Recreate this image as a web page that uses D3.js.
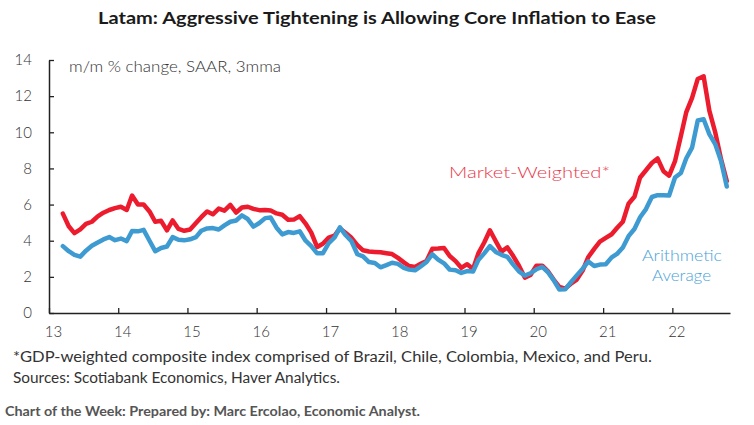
<!DOCTYPE html>
<html>
<head>
<meta charset="utf-8">
<script src="https://cdn.jsdelivr.net/npm/d3@7"></script>
<style>
  html, body { margin: 0; padding: 0; background: #fff; }
  svg { display: block; }
  text { font-family: Lato, "Open Sans", sans-serif; }
</style>
</head>
<body>
<svg id="chart" width="754" height="425"></svg>
<script>
// ---- Data (monthly, Mar 2013 – Oct 2022) ----
const startYear = 2013, startMonth = 2; // March 2013
const marketWeighted = [
  5.5, 4.8, 4.42, 4.63, 4.93, 5.05, 5.35, 5.55, 5.7, 5.8,           // 2013 Mar-Dec
  5.88, 5.7, 6.5, 6.0, 6.0, 5.62, 5.05, 5.1, 4.57, 5.12, 4.65, 4.55, // 2014
  4.62, 4.98, 5.3, 5.62, 5.46, 5.78, 5.66, 5.98, 5.56, 5.84, 5.88, 5.76, // 2015
  5.69, 5.7, 5.67, 5.51, 5.44, 5.16, 5.17, 5.36, 4.95, 4.45, 3.65, 3.83, // 2016
  4.17, 4.28, 4.68, 4.42, 4.16, 3.76, 3.47, 3.4, 3.38, 3.36, 3.31, 3.26, // 2017
  3.05, 2.8, 2.6, 2.55, 2.72, 2.88, 3.55, 3.57, 3.6, 3.15, 2.87, 2.5,   // 2018
  2.7, 2.43, 3.3, 3.9, 4.58, 3.97, 3.4, 3.63, 3.15, 2.62, 1.96, 2.1,    // 2019
  2.62, 2.62, 2.32, 1.85, 1.45, 1.35, 1.62, 1.85, 2.35, 3.1, 3.55, 3.95, // 2020
  4.16, 4.36, 4.7, 5.05, 6.05, 6.43, 7.5, 7.9, 8.3, 8.55, 7.85, 7.6,    // 2021
  8.4, 9.8, 11.1, 11.9, 12.95, 13.1, 11.2, 10.0, 8.5, 7.3              // 2022 Jan-Oct
];
const arithmeticAverage = [
  3.7, 3.42, 3.22, 3.12, 3.45, 3.72, 3.9, 4.07, 4.2, 4.03,
  4.12, 3.98, 4.54, 4.52, 4.6, 4.0, 3.42, 3.6, 3.68, 4.2, 4.05, 4.02,
  4.08, 4.2, 4.55, 4.68, 4.7, 4.62, 4.85, 5.05, 5.12, 5.4, 5.2, 4.78,
  4.98, 5.25, 5.28, 4.72, 4.35, 4.48, 4.43, 4.52, 4.0, 3.7, 3.3, 3.3,
  3.86, 4.18, 4.74, 4.3, 3.97, 3.25, 3.13, 2.82, 2.77, 2.53, 2.65, 2.78,
  2.72, 2.5, 2.4, 2.36, 2.58, 2.82, 3.25, 2.95, 2.75, 2.4, 2.37, 2.22,
  2.32, 2.29, 2.93, 3.3, 3.7, 3.38, 3.22, 3.1, 2.68, 2.3, 2.07, 2.2,
  2.42, 2.55, 2.27, 1.82, 1.3, 1.31, 1.7, 2.08, 2.45, 2.85, 2.6, 2.68,
  2.7, 3.08, 3.27, 3.63, 4.25, 4.65, 5.3, 5.75, 6.42, 6.52, 6.52, 6.5,
  7.5, 7.75, 8.55, 9.15, 10.65, 10.72, 9.9, 9.35, 8.4, 7.0
];
const yTicks = [0, 2, 4, 6, 8, 10, 12, 14];
const xTickYears = [2013, 2014, 2015, 2016, 2017, 2018, 2019, 2020, 2021, 2022];
const xTickLabels = ["13", "14", "15", "16", "17", "18", "19", "20", "21", "22"];

const titleText = "Latam: Aggressive Tightening is Allowing Core Inflation to Ease";
const unitText = "m/m % change, SAAR, 3mma";
const footnote1 = "*GDP-weighted composite index comprised of Brazil, Chile, Colombia, Mexico, and Peru.";
const footnote2 = "Sources: Scotiabank Economics, Haver Analytics.";
const footer = "Chart of the Week:  Prepared by: Marc Ercolao, Economic Analyst.";

const RED = "#ec1c2e", BLUE = "#3d9bd2";

const dates = marketWeighted.map((_, i) => new Date(startYear, startMonth + i, 15));
const seriesMW = dates.map((d, i) => ({ d, v: marketWeighted[i] }));
const seriesAA = dates.map((d, i) => ({ d, v: arithmeticAverage[i] }));

const svg = d3.select("#chart");
svg.append("rect").attr("width", 754).attr("height", 425).attr("fill", "#fff");

const x = d3.scaleTime()
  .domain([new Date(2013, 0, 1), new Date(2022, 10, 1)])
  .range([49, 730]);
const y = d3.scaleLinear().domain([0, 14]).range([313, 60]);

function fitText(sel, len) {
  return sel.attr("textLength", len).attr("lengthAdjust", "spacingAndGlyphs");
}

// Title
fitText(svg.append("text")
  .attr("x", 377).attr("y", 24)
  .attr("text-anchor", "middle")
  .attr("font-size", 17).attr("font-weight", 700).attr("fill", "#1a1a1a")
  .text(titleText), 558);

// Y axis
const yAxis = d3.axisLeft(y).tickValues(yTicks)
  .tickSizeInner(-5).tickSizeOuter(0).tickPadding(17)
  .tickFormat(d3.format("d"));
const gy = svg.append("g").attr("transform", "translate(49,0)").call(yAxis);
gy.select(".domain").attr("stroke", "#222").attr("stroke-width", 1.5);
gy.selectAll(".tick line").attr("stroke", "#222").attr("stroke-width", 1.3);
gy.selectAll(".tick text").attr("font-size", 15).attr("fill", "#333")
  .attr("font-family", "Lato, sans-serif").attr("font-weight", 300);

// X axis
const xAxis = d3.axisBottom(x)
  .tickValues(xTickYears.map(yr => new Date(yr, 0, 1)))
  .tickSizeInner(-5).tickSizeOuter(0).tickPadding(13)
  .tickFormat((d, i) => xTickLabels[i]);
const gx = svg.append("g").attr("transform", "translate(0,313)").call(xAxis);
gx.select(".domain").attr("stroke", "#222").attr("stroke-width", 1.5);
gx.selectAll(".tick line").attr("stroke", "#222").attr("stroke-width", 1.3);
gx.selectAll(".tick text").attr("font-size", 15).attr("fill", "#333")
  .attr("font-family", "Lato, sans-serif").attr("font-weight", 300)
  .attr("dx", 4);

// Unit label
fitText(svg.append("text").attr("x", 69).attr("y", 72)
  .attr("font-size", 15).attr("fill", "#333").attr("font-weight", 300)
  .text(unitText), 212);

// Lines
const line = d3.line().x(p => x(p.d)).y(p => y(p.v));
svg.append("path").datum(seriesMW)
  .attr("fill", "none").attr("stroke", RED).attr("stroke-width", 4.5)
  .attr("stroke-linejoin", "round").attr("stroke-linecap", "round")
  .attr("d", line);
svg.append("path").datum(seriesAA)
  .attr("fill", "none").attr("stroke", BLUE).attr("stroke-width", 4.5)
  .attr("stroke-linejoin", "round").attr("stroke-linecap", "round")
  .attr("d", line);

// Series labels
fitText(svg.append("text").attr("x", 449).attr("y", 178)
  .attr("font-size", 16).attr("fill", "#e8374a").attr("font-weight", 300)
  .text("Market-Weighted*"), 161);
fitText(svg.append("text").attr("x", 642).attr("y", 261)
  .attr("font-size", 16).attr("fill", "#4aa2d8").attr("font-weight", 300)
  .text("Arithmetic"), 80);
fitText(svg.append("text").attr("x", 652).attr("y", 281)
  .attr("font-size", 16).attr("fill", "#4aa2d8").attr("font-weight", 300)
  .text("Average"), 59);

// Footnotes
fitText(svg.append("text").attr("x", 13).attr("y", 362)
  .attr("font-size", 14.5).attr("fill", "#333").attr("font-weight", 400)
  .text(footnote1), 639);
fitText(svg.append("text").attr("x", 13).attr("y", 383)
  .attr("font-size", 14.5).attr("fill", "#333").attr("font-weight", 400)
  .text(footnote2), 327);
fitText(svg.append("text").attr("x", 5).attr("y", 416)
  .attr("font-size", 12.5).attr("font-weight", 700).attr("fill", "#555")
  .text(footer), 415);
</script>
</body>
</html>
